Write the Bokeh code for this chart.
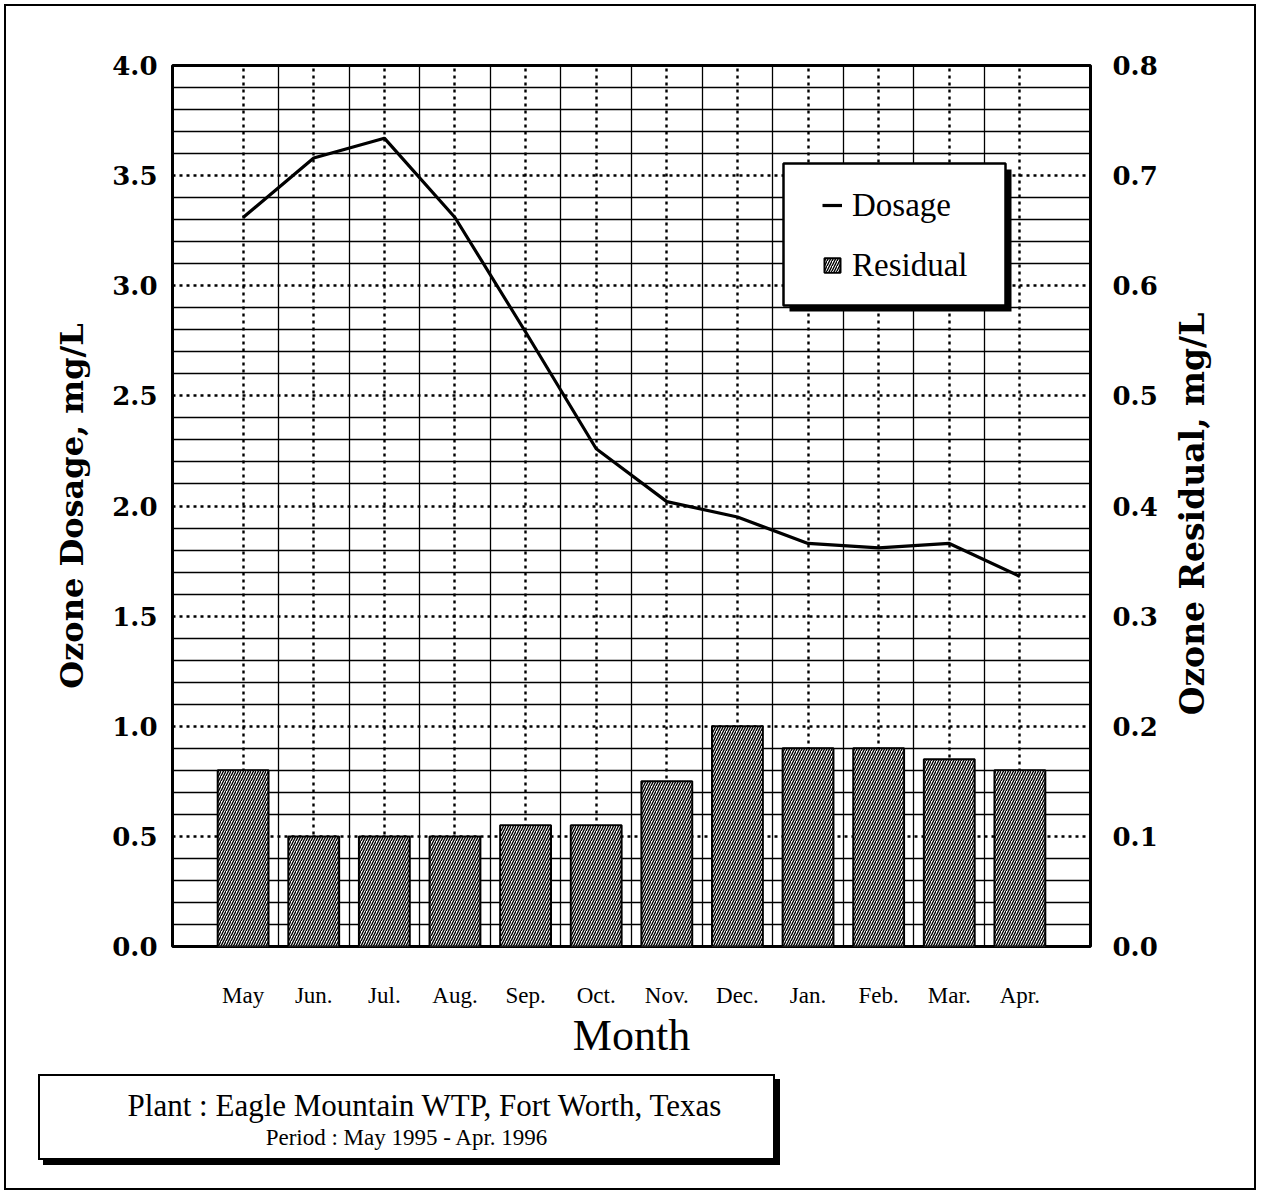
import math
from bokeh.plotting import figure
from bokeh.models import (Range1d, LinearAxis, FixedTicker, Legend, LegendItem, Div,
                          PrintfTickFormatter, Spacer)
from bokeh.layouts import column, row
from bokeh.embed import file_html
from bokeh.resources import INLINE

# ---------------- data ----------------
months = ["May", "Jun.", "Jul.", "Aug.", "Sep.", "Oct.", "Nov.", "Dec.",
          "Jan.", "Feb.", "Mar.", "Apr."]
month_pos = list(range(1, 13))
dosage = [3.31, 3.58, 3.67, 3.31, 2.79, 2.26, 2.02, 1.95, 1.83, 1.81, 1.83, 1.68]   # mg/L
residual = [0.16, 0.10, 0.10, 0.10, 0.11, 0.11, 0.15, 0.20, 0.18, 0.18, 0.17, 0.16]  # mg/L
dosage_ticks = [0.0, 0.5, 1.0, 1.5, 2.0, 2.5, 3.0, 3.5, 4.0]
dosage_minor = [round(i * 0.1, 1) for i in range(41) if i % 5 != 0]
residual_ticks = [0.0, 0.1, 0.2, 0.3, 0.4, 0.5, 0.6, 0.7, 0.8]
month_minor = [m + 0.5 for m in month_pos[:-1]]

# ---------------- layout constants ----------------
EDGE = 4          # gap before the outer page rule
RULE = 2          # outer page rule thickness
TOTAL_W = 1248    # width inside the outer page rule
FIG_H = 1060
INFO_H = 122
B_LEFT, B_TOP, B_RIGHT = 166, 59, 76
FRAME_W, FRAME_H = 918, 881
FIG_W = B_LEFT + FRAME_W + B_RIGHT
RLAB_W = TOTAL_W - FIG_W
B_BOTTOM = FIG_H - B_TOP - FRAME_H
X_MAX, Y_MAX = 13, 4.0
sx = X_MAX / FRAME_W
sy = Y_MAX / FRAME_H

SERIF = "Liberation Serif"
BOLD_SERIF = "DejaVu Serif"

p = figure(width=FIG_W, height=FIG_H, output_backend="svg", toolbar_location=None,
           x_range=Range1d(0, X_MAX), y_range=Range1d(0, Y_MAX),
           min_border_left=B_LEFT, min_border_right=B_RIGHT,
           min_border_top=B_TOP, min_border_bottom=B_BOTTOM, margin=0)
p.extra_y_ranges = {"res": Range1d(0, 0.8)}

p.outline_line_color = "black"
p.outline_line_width = 3
p.background_fill_color = "white"
p.border_fill_color = "white"

# tickers / grids
xt = FixedTicker(ticks=month_pos, minor_ticks=month_minor)
yt = FixedTicker(ticks=dosage_ticks, minor_ticks=dosage_minor)
p.xaxis[0].ticker = xt
p.xgrid[0].ticker = xt
p.yaxis[0].ticker = yt
p.ygrid[0].ticker = yt

for g in (p.xgrid[0], p.ygrid[0]):
    g.grid_line_color = "black"
    g.grid_line_width = 2.4
    g.grid_line_dash = "3 4"
    g.minor_grid_line_color = "black"
    g.minor_grid_line_width = 1.3

# left axis
ly = p.yaxis[0]
ly.formatter = PrintfTickFormatter(format="%.1f")
ly.axis_label = "Ozone Dosage, mg/L"

# right axis (its title is set beside the figure so that it reads bottom-to-top)
ry = LinearAxis(y_range_name="res", ticker=FixedTicker(ticks=residual_ticks),
                formatter=PrintfTickFormatter(format="%.1f"))
p.add_layout(ry, "right")

for ax in (ly, ry):
    ax.axis_line_color = None
    ax.major_tick_line_color = None
    ax.minor_tick_line_color = None
    ax.major_label_text_font = BOLD_SERIF
    ax.major_label_text_font_style = "bold"
    ax.major_label_text_font_size = "26px"
    ax.major_label_text_color = "black"
    ax.axis_label_text_font = BOLD_SERIF
    ax.axis_label_text_font_style = "bold"
    ax.axis_label_text_color = "black"
ly.axis_label_text_font_size = "32px"
ly.major_label_standoff = 9
ly.axis_label_standoff = 18
ry.major_label_standoff = 16

# x axis
xa = p.xaxis[0]
xa.axis_line_color = None
xa.major_tick_line_color = None
xa.minor_tick_line_color = None
xa.major_label_overrides = {m: lab for m, lab in zip(month_pos, months)}
xa.major_label_text_font = SERIF
xa.major_label_text_font_size = "23px"
xa.major_label_text_color = "black"
xa.major_label_standoff = 30
xa.axis_label = "Month"
xa.axis_label_text_font = SERIF
xa.axis_label_text_font_style = "normal"
xa.axis_label_text_font_size = "44px"
xa.axis_label_text_color = "black"
xa.axis_label_standoff = 0

# ---------------- glyphs ----------------
bars = p.vbar(x=month_pos, top=residual, bottom=0, width=0.72, y_range_name="res",
              fill_color="white", line_color="black", line_width=2,
              hatch_pattern="/", hatch_color="black", hatch_scale=5, hatch_weight=1.4)
line = p.line(month_pos, dosage, line_color="black", line_width=3.2)

# legend frame (pixel geometry relative to the frame's bottom-left corner)
BOX_L, BOX_R, BOX_B, BOX_T, SH = 611, 833, 641, 783, 6
p.quad(left=(BOX_L + SH) * sx, right=(BOX_R + SH) * sx,
       bottom=(BOX_B - SH) * sy, top=(BOX_T - SH) * sy,
       fill_color="black", line_color=None)
p.quad(left=BOX_L * sx, right=BOX_R * sx, bottom=BOX_B * sy, top=BOX_T * sy,
       fill_color="white", line_color="black", line_width=2.5)

legend = Legend(items=[LegendItem(label="Dosage", renderers=[line]),
                       LegendItem(label="Residual", renderers=[bars])],
                location=(BOX_L + 39, BOX_B + 20), orientation="vertical",
                padding=0, spacing=20, margin=0,
                glyph_width=20, glyph_height=18, label_height=40,
                label_standoff=10,
                label_text_font=SERIF, label_text_font_size="33px", label_text_color="black",
                border_line_color=None, background_fill_alpha=0.0)
p.add_layout(legend)

# ---------------- right axis title ----------------
RLAB_CX = 1192 - (EDGE + RULE + FIG_W)     # centre, px from the strip's left
RLAB_CY = 514 - (EDGE + RULE)              # centre, px from the strip's top
rlab_html = (
    f'<div style="position:relative; width:{RLAB_W}px; height:{FIG_H}px;">'
    f'<div style="position:absolute; left:{RLAB_CX}px; top:{RLAB_CY}px; '
    'transform:translate(-50%,-50%) rotate(-90deg); white-space:nowrap; '
    "font-family:'DejaVu Serif', serif; font-weight:bold; font-size:33px; "
    'line-height:1; color:black;">Ozone Residual, mg/L</div></div>'
)
rlab = Div(text=rlab_html, width=RLAB_W, height=FIG_H, margin=0)

# ---------------- info box ----------------
info_html = (
    '<div style="margin-left:32px; margin-top:8px; width:737px; height:86px; '
    'box-sizing:border-box; border:2px solid black; box-shadow:5px 5px 0 black; '
    'background:white; text-align:center; font-family:\'Liberation Serif\', serif; color:black;">'
    '<div style="font-size:31px; line-height:36px; padding-top:12px; padding-left:36px;">'
    'Plant : Eagle Mountain WTP, Fort Worth, Texas</div>'
    '<div style="font-size:23px; line-height:28px;">Period : May 1995 - Apr. 1996</div>'
    '</div>'
)
info = Div(text=info_html, width=TOTAL_W, height=INFO_H, margin=0)

# ---------------- outer page rule ----------------
inner_h = RULE + FIG_H + INFO_H + RULE
def rule(w, h):
    return Div(text="", width=w, height=h, margin=0, styles={"background-color": "black"})

inner = column(rule(TOTAL_W, RULE), row(p, rlab, spacing=0), info, rule(TOTAL_W, RULE),
               spacing=0)
framed = row(Spacer(width=EDGE, height=inner_h, margin=0), rule(RULE, inner_h), inner,
             rule(RULE, inner_h), spacing=0)
layout = column(Spacer(width=EDGE + 2 * RULE + TOTAL_W, height=EDGE, margin=0), framed,
                spacing=0)

open("out.html", "w").write(file_html(layout, INLINE))
